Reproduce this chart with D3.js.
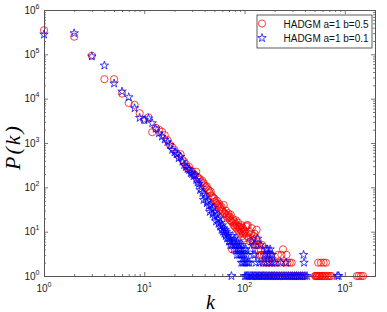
<!DOCTYPE html>
<html><head><meta charset="utf-8">
<script src="https://cdn.jsdelivr.net/npm/d3@7"></script>
<style>body{margin:0;background:#fff}svg{display:block}</style>
</head><body><svg id="c" width="387" height="312"></svg>
<script>
// degree k, number of nodes P(k)
const redSeries = [[1,350000],[2,250000],[3,93000],[4,27500],[5,27500],[6,13000],[7,8000],[8,7300],[9,4700],[10,3300],[11,3800],[12,1750],[13,2200],[14,2000],[15,1800],[16,1500],[17,1170],[18,910],[19,800],[20,700],[21,590],[22,520],[23,560],[24,415],[25,380],[26,330],[27,270],[28,290],[29,240],[30,230],[31,200],[32,190],[33,225],[34,170],[35,160],[36,150],[37,130],[38,140],[39,124],[40,110],[41,100],[42,105],[43,90],[44,85],[45,74],[46,80],[47,65],[48,60],[49,58],[50,55],[51,48],[52,44],[53,50],[54,40],[55,38],[56,42],[57,35],[58,32],[59,36],[60,30],[61,28],[62,40],[63,26],[64,25],[65,30],[66,22],[67,24],[68,20],[69,26],[70,21],[71,22],[72,18],[73,24],[74,17],[75,4],[76,16],[77,19],[78,14],[79,17],[80,13],[81,15],[82,18],[83,12],[84,14],[85,11],[86,16],[87,13],[88,10],[89,12],[90,13],[91,9],[92,11],[93,14],[94,10],[95,8],[96,12],[97,9],[98,11],[99,7],[100,10],[102,9],[104,13],[105,14],[106,8],[108,14],[110,7],[112,10],[114,6],[116,9],[118,12],[120,7],[122,8],[124,6],[126,9],[127,1],[128,5],[130,7],[132,11],[134,5],[136,6],[138,4],[140,5],[142,3],[143,1],[145,4],[148,3],[150,5],[153,2],[156,3],[158,1],[160,4],[163,2],[166,3],[170,2],[174,1],[178,2],[182,3],[186,1],[190,2],[195,1],[200,2],[205,1],[210,2],[215,3],[220,1],[226,2],[233,3],[238,1],[242,4],[248,2],[255,1],[262,3],[268,2],[275,1],[282,2],[290,1],[295,2],[302,1],[310,1],[318,1],[325,1],[330,1],[340,1],[352,1],[365,1],[380,1],[395,1],[505,1],[512,1],[520,1],[528,1],[535,1],[542,2],[552,1],[560,1],[570,1],[578,2],[590,1],[600,1],[615,2],[625,1],[640,1],[648,2],[670,1],[690,1],[710,1],[735,1],[1320,1],[1380,1],[1450,1],[1520,1]];
const blueSeries = [[1,280000],[2,300000],[3,90000],[4,56000],[5,22000],[6,14500],[7,10800],[8,6100],[9,3700],[10,3300],[11,3600],[12,2800],[13,2100],[14,1660],[15,1400],[16,1200],[17,1050],[18,900],[19,700],[20,620],[21,560],[22,455],[23,490],[24,380],[25,318],[26,290],[27,260],[28,247],[29,210],[30,200],[31,180],[32,190],[33,147],[34,130],[35,120],[36,87],[37,100],[38,75],[39,52],[40,68],[41,60],[42,44],[43,50],[44,38],[45,28],[46,40],[47,32],[48,25],[49,35],[50,22],[51,27],[52,17],[53,24],[54,19],[55,15],[56,20],[57,13],[58,16],[59,11],[60,14],[61,10],[62,12],[63,9],[64,11],[65,8],[66,10],[67,7],[68,9],[69,8],[70,6],[71,7],[72,5],[73,6],[74,1],[75,5],[76,8],[77,6],[78,4],[79,7],[80,5],[81,6],[82,4],[83,5],[84,3],[85,6],[86,4],[87,5],[88,3],[89,4],[90,5],[91,3],[92,4],[93,2],[94,3],[95,5],[96,2],[97,3],[98,4],[99,2],[100,3],[101,1],[102,2],[103,4],[104,1],[105,3],[106,2],[107,1],[108,2],[110,1],[112,2],[114,1],[115,4],[117,6],[118,1],[121,1],[122,3],[124,5],[125,1],[127,3],[129,1],[130,2],[133,1],[135,7],[137,1],[140,2],[141,1],[144,5],[146,1],[150,1],[152,2],[155,1],[158,3],[160,1],[163,2],[165,4],[166,1],[168,3],[170,4],[172,1],[175,2],[176,3],[178,1],[180,4],[183,3],[185,1],[188,2],[190,3],[192,1],[199,1],[200,2],[207,1],[215,1],[224,1],[230,2],[233,1],[243,1],[253,1],[260,2],[264,1],[275,1],[287,1],[300,1],[315,1],[330,1],[345,1],[362,1],[380,1],[388,3],[392,2],[400,1],[420,1],[840,1],[870,1]];
const xTickExps = [0,1,2,3];
const yTickExps = [0,1,2,3,4,5,6];
const legendLabels = ["HADGM a=1 b=0.5","HADGM a=1 b=0.1"];
const xLabel = "k", yLabel = "P(k)";

const svg = d3.select("#c");
const L=44, R=375, T=10, B=276;
const x = d3.scaleLog().domain([1,2000]).range([L,R]);
const y = d3.scaleLog().domain([1,1e6]).range([B,T]);
const axisColor = "#555";
const sans = "'Liberation Sans', Arial, sans-serif";

function minors(domain){
  const out=[];
  for(let e=Math.floor(Math.log10(domain[0])); e<=Math.ceil(Math.log10(domain[1])); e++)
    for(let d=2; d<=9; d++){ const v=d*Math.pow(10,e); if(v>=domain[0]&&v<=domain[1]) out.push(v); }
  return out;
}
const xMaj = xTickExps.map(e=>Math.pow(10,e)), yMaj = yTickExps.map(e=>Math.pow(10,e));
const xMin = minors(x.domain()), yMin = minors(y.domain());

function drawAxis(gen, tr, vals, size){
  const g = svg.append("g").attr("transform", tr)
    .call(gen.tickValues(vals).tickSize(size).tickSizeOuter(0).tickFormat(()=>""));
  g.selectAll("path.domain").attr("stroke", axisColor).attr("stroke-width", 1);
  g.selectAll(".tick line").attr("stroke", axisColor).attr("stroke-width", 0.8);
  return g;
}
drawAxis(d3.axisBottom(x), `translate(0,${B})`, xMin, -2);
drawAxis(d3.axisBottom(x), `translate(0,${B})`, xMaj, -4);
drawAxis(d3.axisTop(x), `translate(0,${T})`, xMin, -2);
drawAxis(d3.axisTop(x), `translate(0,${T})`, xMaj, -4);
drawAxis(d3.axisLeft(y), `translate(${L},0)`, yMin, -2);
drawAxis(d3.axisLeft(y), `translate(${L},0)`, yMaj, -4);
drawAxis(d3.axisRight(y), `translate(${R},0)`, yMin, -2);
drawAxis(d3.axisRight(y), `translate(${R},0)`, yMaj, -4);

// tick labels
xTickExps.forEach(e=>{
  const t = svg.append("text").attr("x", x(Math.pow(10,e))).attr("y", 292)
    .attr("text-anchor","middle").attr("font-family",sans).attr("font-size",10).attr("fill","#222");
  t.append("tspan").text("10");
  t.append("tspan").attr("dy",-5).attr("font-size",7).text(e);
});
yTickExps.forEach(e=>{
  const t = svg.append("text").attr("x", 39.5).attr("y", y(Math.pow(10,e))+3.6)
    .attr("text-anchor","end").attr("font-family",sans).attr("font-size",10).attr("fill","#222");
  t.append("tspan").text("10");
  t.append("tspan").attr("dy",-5).attr("font-size",7).text(e);
});

// data
const plot = svg.append("g");
plot.selectAll("circle.red").data(redSeries).join("circle").attr("class","red")
  .attr("cx",d=>x(d[0])).attr("cy",d=>y(d[1])).attr("r",3.6)
  .attr("fill","none").attr("stroke","#ff0000").attr("stroke-width",0.75);
const star = d3.symbol().type(d3.symbolStar).size(22);
plot.selectAll("path.blue").data(blueSeries).join("path").attr("class","blue")
  .attr("transform",d=>`translate(${x(d[0])},${y(d[1])})`).attr("d",star)
  .attr("fill","none").attr("stroke","#0000ff").attr("stroke-width",0.75);

// legend
const lg = svg.append("g");
lg.append("rect").attr("x",257).attr("y",15).attr("width",115).attr("height",33)
  .attr("fill","#fff").attr("stroke","#333").attr("stroke-width",0.8);
lg.append("circle").attr("cx",262).attr("cy",23.5).attr("r",3.6)
  .attr("fill","none").attr("stroke","#ff0000").attr("stroke-width",0.75);
lg.append("path").attr("transform","translate(262,38)").attr("d",star)
  .attr("fill","none").attr("stroke","#0000ff").attr("stroke-width",0.75);
legendLabels.forEach((s,i)=>{
  lg.append("text").attr("x",283.5).attr("y",27.5+i*14.3).attr("font-family",sans)
    .attr("font-size",10).attr("fill","#111").text(s);
});

// axis titles
svg.append("text").attr("x",(L+R)/2+1).attr("y",309).attr("text-anchor","middle")
  .attr("font-family","'Liberation Serif','DejaVu Serif',serif").attr("font-style","italic")
  .attr("font-size",20).text(xLabel);
svg.append("text").attr("transform",`translate(20,147) rotate(-90)`).attr("text-anchor","middle")
  .attr("font-family","'Liberation Serif','DejaVu Serif',serif").attr("font-style","italic")
  .attr("font-size",22).attr("letter-spacing",2).text(yLabel);
</script></body></html>
